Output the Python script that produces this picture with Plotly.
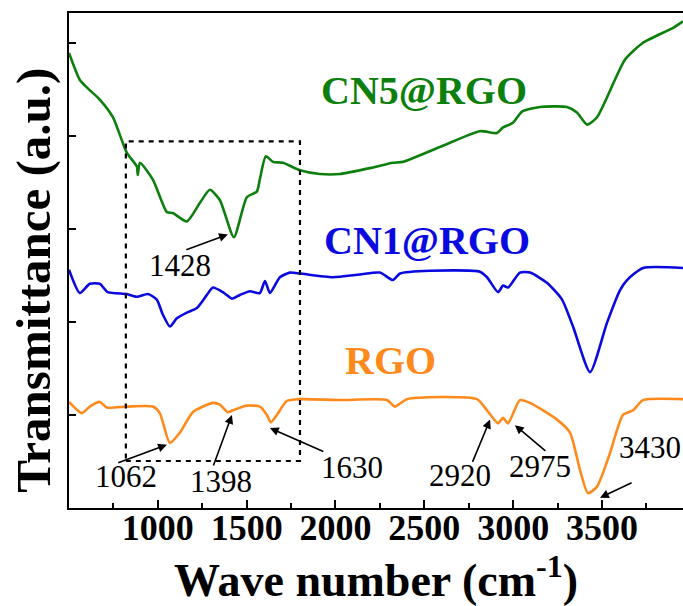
import plotly.graph_objects as go

# ---- data (wavenumber in cm^-1, transmittance in arbitrary offset units) ----
cn5_wn = [500, 561, 600, 673, 747, 825, 882, 887, 899, 972, 1051, 1084, 1163, 1237, 1293, 1349,
          1428, 1501, 1557, 1574, 1608, 1648, 1704, 1800, 1912, 2025, 2211, 2323, 2380, 2588,
          2813, 2909, 2943, 2999, 3050, 3151, 3303, 3359, 3416, 3472, 3630, 3731, 3900, 3956]
cn5_t = [4.89, 4.60, 4.52, 4.39, 4.20, 3.82, 3.67, 3.58, 3.71, 3.53, 3.18, 3.17, 3.08, 3.28, 3.42, 3.31,
         2.91, 3.34, 3.40, 3.53, 3.78, 3.72, 3.71, 3.63, 3.59, 3.59, 3.66, 3.71, 3.72, 3.88,
         4.05, 4.03, 4.09, 4.14, 4.26, 4.31, 4.31, 4.25, 4.12, 4.20, 4.82, 5.00, 5.16, 5.23]

cn1_wn = [500, 561, 617, 673, 718, 825, 882, 944, 994, 1028, 1068, 1107, 1163, 1220, 1276, 1310,
          1366, 1417, 1462, 1518, 1574, 1603, 1631, 1687, 1743, 1800, 1985, 2137, 2250, 2323,
          2363, 2532, 2813, 2853, 2915, 2943, 2971, 3038, 3095, 3190, 3275, 3337, 3433, 3528,
          3601, 3641, 3731, 3956]
cn1_t = [2.56, 2.31, 2.41, 2.41, 2.32, 2.30, 2.27, 2.30, 2.24, 2.08, 1.95, 2.04, 2.10, 2.15, 2.29, 2.37,
         2.32, 2.25, 2.29, 2.33, 2.31, 2.44, 2.31, 2.48, 2.53, 2.52, 2.48, 2.51, 2.53, 2.45,
         2.52, 2.55, 2.54, 2.48, 2.32, 2.39, 2.37, 2.53, 2.53, 2.42, 2.24, 1.95, 1.46, 1.99,
         2.34, 2.45, 2.58, 2.58]

rgo_wn = [500, 572, 617, 673, 713, 825, 972, 1011, 1068, 1124, 1197, 1310, 1349, 1394, 1422, 1501,
          1574, 1614, 1636, 1670, 1726, 1800, 2025, 2290, 2335, 2402, 2796, 2853, 2915, 2943,
          2971, 3038, 3095, 3247, 3320, 3376, 3421, 3472, 3545, 3618, 3675, 3731, 3956]
rgo_t = [1.14, 1.02, 1.09, 1.14, 1.08, 1.09, 1.09, 1.02, 0.70, 0.81, 1.03, 1.13, 1.11, 1.03, 1.05, 1.10,
         1.09, 1.00, 0.92, 1.00, 1.15, 1.17, 1.16, 1.16, 1.09, 1.17, 1.17, 1.05, 0.91, 0.97,
         0.91, 1.16, 1.13, 0.95, 0.81, 0.41, 0.16, 0.23, 0.59, 1.00, 1.05, 1.16, 1.17]

series_names = ["CN5@RGO", "CN1@RGO", "RGO"]
series_colors = ["#0c7f0c", "#0a0ae0", "#ff8a1c"]
label_wn = [2497, 2515, 2312]
label_t = [4.49, 2.88, 1.58]

# peak annotations: label, arrow head (wn, t), arrow tail (wn, t), text center (wn, t)
peak_labels = ["1428", "1062", "1398", "1630", "2920", "2975", "3430"]
head_wn = [1394, 1051, 1417, 1631, 2870, 3010, 3489]
head_t = [2.94, 0.68, 1.00, 0.86, 0.95, 0.89, 0.11]
tail_wn = [1152, 769, 1310, 1940, 2768, 3190, 3675]
tail_t = [2.77, 0.48, 0.44, 0.60, 0.48, 0.60, 0.28]
text_wn = [1124, 820, 1355, 2092, 2700, 3151, 3770]
text_t = [2.61, 0.34, 0.29, 0.44, 0.35, 0.45, 0.65]

# dotted highlight box
box_wn = [820, 1800]
box_t = [0.505, 3.94]

x_range = [500, 3956]
y_range = [0, 5.32]
x_tickvals = [1000, 1500, 2000, 2500, 3000, 3500]
y_tickvals = [1, 2, 3, 4, 5]

FONT = "Liberation Serif, Times New Roman, serif"

fig = go.Figure()
for wn, t, c, n in zip([cn5_wn, cn1_wn, rgo_wn], [cn5_t, cn1_t, rgo_t], series_colors, series_names):
    fig.add_trace(go.Scatter(x=wn, y=t, mode="lines", name=n,
                             line=dict(color=c, width=2.6, shape="spline", smoothing=0.6),
                             showlegend=False, hoverinfo="skip"))

annotations = []
for n, c, x, y in zip(series_names, series_colors, label_wn, label_t):
    annotations.append(dict(x=x, y=y, xref="x", yref="y", text="<b>%s</b>" % n, showarrow=False,
                            font=dict(family=FONT, size=40, color=c)))

for lab, hx, hy, tx, ty, px, py in zip(peak_labels, head_wn, head_t, tail_wn, tail_t, text_wn, text_t):
    annotations.append(dict(x=hx, y=hy, ax=tx, ay=ty, xref="x", yref="y", axref="x", ayref="y",
                            text="", showarrow=True, arrowhead=2, arrowsize=1.1, arrowwidth=1.6,
                            arrowcolor="black", standoff=0, startstandoff=0))
    annotations.append(dict(x=px, y=py, xref="x", yref="y", text=lab, showarrow=False,
                            font=dict(family=FONT, size=31, color="black")))

annotations.append(dict(x=0.5, y=-0.077, xref="paper", yref="paper", xanchor="center", yanchor="top",
                        text="<b>Wave number (cm<sup>-1</sup>)</b>", showarrow=False,
                        font=dict(family=FONT, size=46, color="black")))
annotations.append(dict(x=-0.058, y=0.46, xref="paper", yref="paper", xanchor="center", yanchor="middle",
                        textangle=-90,
                        text="<b>Transmittance (a.u.)</b>", showarrow=False,
                        font=dict(family=FONT, size=49, color="black")))

fig.add_shape(type="rect", xref="x", yref="y", x0=box_wn[0], x1=box_wn[1], y0=box_t[0], y1=box_t[1],
              line=dict(color="black", width=2.2, dash="5px,5px"))

fig.update_layout(
    width=683, height=606,
    margin=dict(l=69, r=0, t=13, b=98),
    paper_bgcolor="white", plot_bgcolor="white",
    annotations=annotations,
    font=dict(family=FONT, color="black"),
)
fig.update_xaxes(range=x_range, showgrid=False, zeroline=False,
                 showline=True, linecolor="black", linewidth=2, mirror=True,
                 ticks="inside", ticklen=8, tickwidth=2, tickcolor="black",
                 tickvals=x_tickvals, ticktext=["<b>%d</b>" % v for v in x_tickvals],
                 tickfont=dict(family=FONT, size=36, color="black"), ticklabelstandoff=-13,
                 minor=dict(ticks="inside", ticklen=5, tickwidth=1.5, tickcolor="black", dtick=250, tick0=750))
fig.update_yaxes(range=y_range, showgrid=False, zeroline=False,
                 showline=True, linecolor="black", linewidth=2, mirror=False,
                 ticks="inside", ticklen=7, tickwidth=2, tickcolor="black",
                 tickvals=y_tickvals, showticklabels=False)

fig.write_html("out.html", config={"displayModeBar": False},
               post_script="document.documentElement.style.margin='0';document.body.style.margin='0';"
                           "document.body.style.overflow='hidden';")
